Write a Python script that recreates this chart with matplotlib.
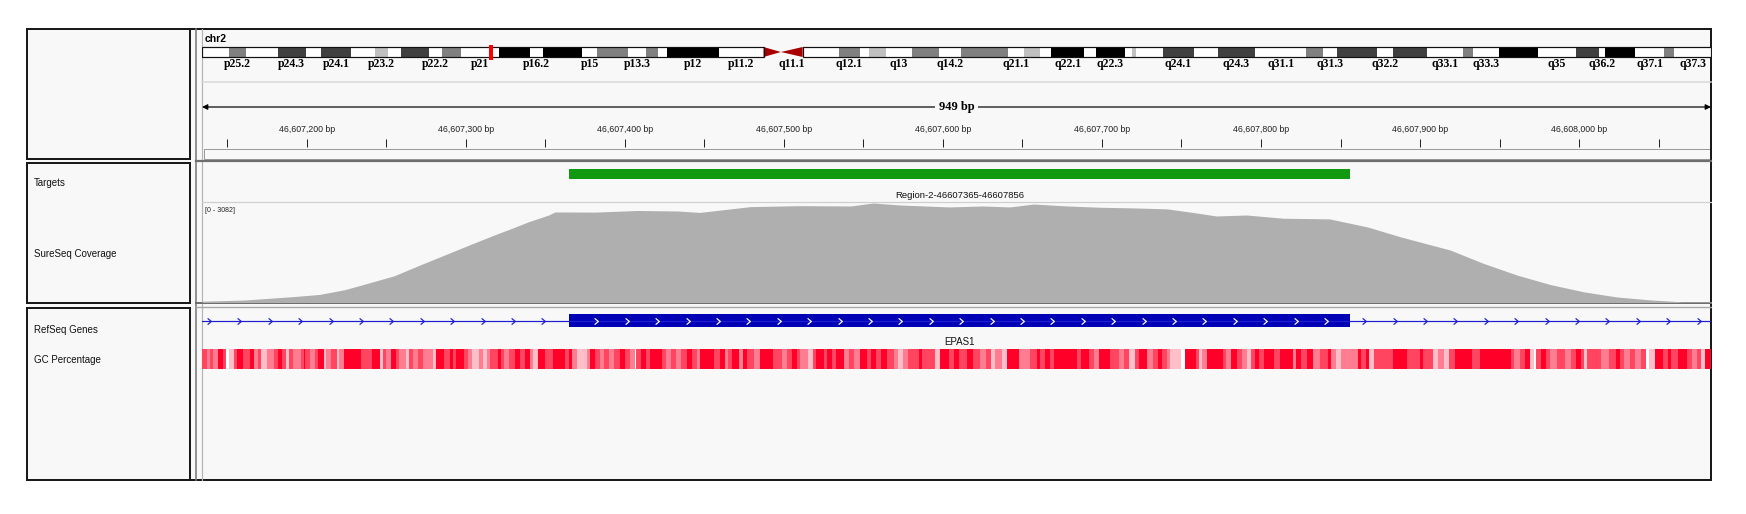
import numpy as np
import matplotlib.pyplot as plt
from matplotlib.patches import Rectangle, Polygon
from matplotlib.path import Path

W, H = 1746, 514

# view
chrom = 'chr2'
view_start = 46607134
view_end = 46608083
chrom_len = 243.199373  # Mb

# chr2 cytobands (Mb)
band_names = ['p25.3', 'p25.2', 'p25.1', 'p24.3', 'p24.2', 'p24.1', 'p23.3', 'p23.2', 'p23.1', 'p22.3',
              'p22.2', 'p22.1', 'p21', 'p16.3', 'p16.2', 'p16.1', 'p15', 'p14', 'p13.3', 'p13.2',
              'p13.1', 'p12', 'p11.2', 'p11.1', 'q11.1', 'q11.2', 'q12.1', 'q12.2', 'q12.3', 'q13',
              'q14.1', 'q14.2', 'q14.3', 'q21.1', 'q21.2', 'q21.3', 'q22.1', 'q22.2', 'q22.3', 'q23.1',
              'q23.2', 'q23.3', 'q24.1', 'q24.2', 'q24.3', 'q31.1', 'q31.2', 'q31.3', 'q32.1', 'q32.2',
              'q32.3', 'q33.1', 'q33.2', 'q33.3', 'q34', 'q35', 'q36.1', 'q36.2', 'q36.3', 'q37.1',
              'q37.2', 'q37.3']
band_starts = [0, 4.4, 7.1, 12.2, 16.7, 19.2, 24.0, 27.9, 30.0, 32.1,
               36.6, 38.6, 41.8, 47.8, 52.9, 55.0, 61.3, 63.6, 68.7, 71.5,
               73.5, 75.0, 83.3, 90.5, 93.3, 96.8, 102.7, 106.0, 107.5, 110.2,
               114.4, 118.8, 122.4, 129.9, 132.5, 135.1, 136.8, 142.2, 144.1, 148.7,
               149.9, 150.5, 154.9, 159.8, 163.7, 169.7, 178.0, 180.6, 183.0, 189.4,
               191.9, 197.4, 203.3, 204.9, 209.0, 215.3, 221.5, 225.2, 226.1, 231.0,
               235.6, 237.3]
band_stains = ['gneg', 'gpos50', 'gneg', 'gpos75', 'gneg', 'gpos75', 'gneg', 'gpos25', 'gneg', 'gpos75',
               'gneg', 'gpos50', 'gneg', 'gpos100', 'gneg', 'gpos100', 'gneg', 'gpos50', 'gneg', 'gpos50',
               'gneg', 'gpos100', 'gneg', 'acen', 'acen', 'gneg', 'gpos50', 'gneg', 'gpos25', 'gneg',
               'gpos50', 'gneg', 'gpos50', 'gneg', 'gpos25', 'gneg', 'gpos100', 'gneg', 'gpos100', 'gneg',
               'gpos25', 'gneg', 'gpos75', 'gneg', 'gpos75', 'gneg', 'gpos50', 'gneg', 'gpos75', 'gneg',
               'gpos75', 'gneg', 'gpos50', 'gneg', 'gpos100', 'gneg', 'gpos75', 'gneg', 'gpos100', 'gneg',
               'gpos50', 'gneg']
labelled_bands = ['p25.2', 'p24.3', 'p24.1', 'p23.2', 'p22.2', 'p21', 'p16.2', 'p15', 'p13.3', 'p12',
                  'p11.2', 'q11.1', 'q12.1', 'q13', 'q14.2', 'q21.1', 'q22.1', 'q22.3', 'q24.1', 'q24.3',
                  'q31.1', 'q31.3', 'q32.2', 'q33.1', 'q33.3', 'q35', 'q36.2', 'q37.1', 'q37.3']

# target + gene
target_name = 'Region-2-46607365-46607856'
target_start, target_end = 46607365, 46607856
gene_name = 'EPAS1'
gene_start, gene_end = 46524541, 46613842
exon_start, exon_end = 46607365, 46607856

# coverage (bp offset from view_start, depth)
cov_max = 3082
cov_offsets = [0, 27, 58, 74, 90, 106, 121, 137, 153, 169, 184, 195, 205, 218, 222, 247, 274, 299, 313,
               345, 376, 408, 422, 439, 470, 491, 508, 523, 544, 565, 586, 607, 623, 638, 657, 680,
               709, 733, 754, 785, 806, 827, 848, 869, 890, 911, 931, 949]
cov_depth = [40, 77, 185, 250, 400, 620, 830, 1160, 1480, 1800, 2095, 2300, 2495, 2710, 2805, 2800,
             2850, 2835, 2790, 2970, 3000, 2990, 3082, 3020, 2960, 2990, 2960, 3050, 2990, 2950, 2930,
             2900, 2790, 2680, 2710, 2610, 2590, 2340, 2030, 1625, 1210, 850, 555, 330, 170, 80, 20, 20]

# GC percentage: segment start (bp offset) and intensity class 0 (low) .. 4 (high)
gc_offsets = [0, 3, 5, 7, 10, 13, 15, 17, 20, 22, 26, 30, 33, 35, 37, 41, 45, 48, 50, 53,
              55, 57, 62, 64, 65, 68, 71, 73, 77, 78, 81, 85, 86, 89, 100, 107, 112, 114, 116, 119,
              122, 124, 128, 130, 133, 136, 139, 145, 147, 152, 156, 158, 160, 165, 167, 170, 174, 177, 179, 181,
              186, 188, 190, 193, 197, 200, 203, 206, 208, 211, 216, 221, 228, 231, 233, 236, 242, 244, 247, 250,
              253, 256, 259, 263, 266, 269, 272, 273, 276, 279, 282, 289, 292, 295, 298, 301, 305, 308, 311, 313,
              322, 326, 329, 331, 333, 338, 340, 343, 347, 351, 359, 365, 368, 371, 374, 376, 381, 384, 386, 391,
              393, 396, 399, 404, 407, 410, 414, 418, 421, 424, 427, 431, 435, 438, 441, 444, 451, 453, 461, 464,
              470, 473, 476, 481, 485, 489, 493, 496, 499, 503, 506, 514, 521, 525, 527, 530, 533, 536, 550, 553,
              558, 561, 564, 571, 577, 580, 583, 587, 589, 594, 598, 601, 604, 607, 609, 616, 618, 625, 627, 629,
              632, 642, 644, 647, 651, 654, 657, 660, 662, 665, 668, 674, 678, 686, 688, 691, 695, 699, 703, 708,
              710, 713, 716, 727, 729, 732, 734, 737, 749, 758, 766, 768, 774, 777, 781, 784, 788, 799, 804, 823,
              825, 829, 832, 835, 838, 839, 842, 845, 848, 852, 857, 861, 864, 867, 869, 871, 880, 885, 889, 892,
              894, 898, 901, 905, 908, 910, 914, 919, 922, 924, 928, 934, 937, 940, 943, 945]
gc_class = [3, 2, 3, 2, 4, 3, 0, 1, 3, 4, 3, 4, 2, 3, 1, 2, 3, 4, 3, 1,
            3, 2, 3, 4, 3, 2, 3, 4, 1, 2, 3, 1, 2, 4, 3, 4, 1, 3, 2, 4,
            3, 2, 1, 3, 2, 3, 2, 1, 4, 3, 4, 3, 4, 3, 2, 1, 2, 1, 2, 3,
            4, 3, 2, 3, 4, 3, 4, 2, 1, 4, 3, 4, 3, 4, 2, 1, 2, 4, 3, 2,
            3, 2, 3, 4, 3, 2, 0, 3, 4, 3, 4, 3, 2, 3, 2, 3, 4, 3, 2, 4,
            3, 4, 2, 3, 4, 2, 4, 3, 2, 4, 3, 2, 3, 4, 3, 2, 1, 3, 4, 3,
            4, 3, 4, 2, 3, 2, 4, 3, 4, 3, 4, 3, 2, 1, 2, 3, 4, 3, 1, 4,
            3, 4, 3, 4, 3, 2, 3, 1, 2, 1, 4, 2, 3, 4, 3, 4, 3, 4, 3, 4,
            3, 2, 4, 3, 2, 3, 1, 3, 4, 2, 3, 4, 3, 2, 1, 0, 4, 3, 1, 2,
            4, 3, 2, 4, 3, 2, 1, 3, 4, 3, 4, 3, 4, 2, 4, 3, 4, 2, 3, 4,
            2, 1, 2, 4, 3, 4, 1, 3, 4, 3, 4, 3, 1, 2, 1, 3, 4, 3, 4, 3,
            2, 3, 4, 1, 0, 3, 4, 3, 2, 3, 2, 3, 4, 3, 1, 3, 2, 3, 4, 3,
            2, 3, 2, 3, 0, 1, 4, 3, 4, 3, 4, 3, 2, 3, 1, 4]

stain_colors = {'gneg': '#FFFFFF', 'gpos25': '#C0C0C0', 'gpos50': '#808080',
                'gpos75': '#404040', 'gpos100': '#000000', 'acen': '#A80000'}
gc_colors = ['#FFFFFF', '#FFBEC8', '#FF7D91', '#FF4560', '#FF0028']
panel_bg = '#F8F8F8'
sans = ['Liberation Sans', 'DejaVu Sans']
serif = ['Liberation Serif', 'DejaVu Serif']

fig = plt.figure(figsize=(W / 100, H / 100), dpi=100)
fig.patch.set_facecolor('white')


def px_axes(x0, y0, x1, y1, xlim):
    ax = fig.add_axes([x0 / W, 1 - y1 / H, (x1 - x0) / W, (y1 - y0) / H])
    ax.set_xlim(*xlim)
    ax.set_ylim(y1, y0)
    ax.axis('off')
    return ax


def lw(px):
    return px * 0.72


# frame / panels
bg = px_axes(0, 0, W, H, (0, W))
bg.add_patch(Rectangle((27, 29), 1711 - 27, 480 - 29, fc=panel_bg, ec='none'))
for y0, y1 in [(29, 159), (163, 303), (308, 480)]:
    bg.add_patch(Rectangle((27, y0), 190 - 27, y1 - y0, fill=False, ec='#1a1a1a', lw=lw(2)))
bg.plot([27, 1711], [29, 29], color='#1a1a1a', lw=lw(2))
bg.plot([1711, 1711], [29, 480], color='#1a1a1a', lw=lw(2))
bg.plot([27, 1711], [480, 480], color='#1a1a1a', lw=lw(2))
bg.plot([196, 196], [29, 480], color='#7a7a7a', lw=lw(1.6))
bg.plot([201.5, 201.5], [29, 480], color='#b4b4b4', lw=lw(1.2))
bg.plot([196, 1711], [160.5, 160.5], color='#6e6e6e', lw=lw(2.2))
bg.plot([196, 1711], [303, 303], color='#6e6e6e', lw=lw(2))
bg.plot([196, 1711], [306.5, 306.5], color='#a8a8a8', lw=lw(1.4))
bg.plot([202, 1711], [82, 82], color='#d8d8d8', lw=lw(1.5))
bg.plot([202, 1711], [202, 202], color='#cfcfcf', lw=lw(1.2))
bg.add_patch(Rectangle((204, 148.5), 1711 - 204, 10, fill=False, ec='#9a9a9a', lw=lw(1)))

for y, name in [(183, 'Targets'), (254, 'SureSeq Coverage'), (330, 'RefSeq Genes'), (360, 'GC Percentage')]:
    bg.text(34, y, name, fontsize=7, family=sans, va='center', ha='left', color='#111111')
bg.text(205, 38.5, chrom, fontsize=7.5, family=sans, fontweight='bold', va='center', ha='left')

# ideogram
ideo = px_axes(202, 40, 1711, 72, (0, chrom_len))
band_ends = band_starts[1:] + [chrom_len]
for name, s, e, st in zip(band_names, band_starts, band_ends, band_stains):
    if st == 'acen':
        if name.startswith('p'):
            ideo.add_patch(Polygon([(s, 47), (s, 57), (e, 52)], closed=True, fc=stain_colors[st], ec='none'))
        else:
            ideo.add_patch(Polygon([(e, 47), (e, 57), (s, 52)], closed=True, fc=stain_colors[st], ec='none'))
        continue
    ideo.add_patch(Rectangle((s, 47), e - s, 10, fc=stain_colors[st], ec='none'))
p_end = band_starts[band_names.index('p11.1')]
q_start = band_ends[band_names.index('q11.1')]
ideo.add_patch(Rectangle((0, 47), p_end, 10, fill=False, ec='#111111', lw=lw(1.2)))
ideo.add_patch(Rectangle((q_start, 47), chrom_len - q_start, 10, fill=False, ec='#111111', lw=lw(1.2)))
for name, s, e in zip(band_names, band_starts, band_ends):
    if name in labelled_bands:
        ideo.text((s + e) / 2, 63.5, name, fontsize=8.5, family=serif, fontweight='bold',
                  ha='center', va='center')
view_mid_mb = (view_start + view_end) / 2 / 1e6
mark_w = 4.5 / 1509 * chrom_len
ideo.add_patch(Rectangle((view_mid_mb - mark_w / 2, 44.5), mark_w, 15, fc='#FF0000', ec='none'))

# ruler
ruler = px_axes(202, 95, 1711, 148, (view_start, view_end))
mid = (view_start + view_end) / 2
for xe in (view_start, view_end):
    ruler.annotate('', xy=(xe, 107), xytext=(mid, 107),
                   arrowprops=dict(arrowstyle='-|>', color='black', lw=lw(1.2), mutation_scale=8,
                                   shrinkA=0, shrinkB=0))
ruler.text(mid, 107, f'{view_end - view_start} bp', fontsize=9, family=serif, fontweight='bold',
           ha='center', va='center', bbox=dict(fc=panel_bg, ec='none', pad=3))
ticks = np.arange(46607150, view_end + 50, 50)
ruler.vlines(ticks, 139, 147, color='#222222', lw=lw(1))
for t in ticks:
    if t % 100 == 0:
        ruler.text(t, 130, f'{t:,} bp', fontsize=6.3, family=sans, ha='center', va='center',
                   color='#222222', clip_on=True)

# targets
tgt = px_axes(202, 163, 1711, 202, (view_start, view_end))
tgt.add_patch(Rectangle((target_start, 169), target_end - target_start, 10, fc='#119A11', ec='none'))
tgt.text((target_start + target_end) / 2, 195.5, target_name, fontsize=6.8, family=sans,
         ha='center', va='center', color='#111111')

# coverage
cov = fig.add_axes([202 / W, 1 - 302.5 / H, 1509 / W, 99.5 / H])
cov.axis('off')
cov.set_xlim(view_start, view_end)
cov.set_ylim(0, cov_max)
cov_pos = view_start + np.array(cov_offsets)
cov.fill_between(cov_pos, 0, cov_depth, color='#AFAFAF', lw=0)
bg.text(205, 210, f'[0 - {cov_max}]', fontsize=5, family=sans, va='center', ha='left', color='#222222')

# genes + gc
feat = px_axes(202, 308, 1711, 479, (view_start, view_end))
gene_col = '#1E1ED2'
feat.plot([max(gene_start, view_start), min(gene_end, view_end)], [321, 321], color=gene_col, lw=lw(1.2))
feat.add_patch(Rectangle((exon_start, 314), exon_end - exon_start, 13, fc='#0000B4', ec='none'))
chevron = Path([(-0.6, 1), (0.6, 0), (-0.6, -1)], [Path.MOVETO, Path.LINETO, Path.LINETO])
step = 30.4 / 1509 * (view_end - view_start)
line_arrows = [a for a in np.arange(view_start + 4.4, view_end, step) if not (exon_start - 3 < a < exon_end + 3)]
feat.plot(line_arrows, [321] * len(line_arrows), ls='none', marker=chevron, ms=4.5, mfc='none',
          mec=gene_col, mew=lw(1.2))
exon_arrows = np.arange(exon_start + 17, exon_end - 4, step)
feat.plot(exon_arrows, [321] * len(exon_arrows), ls='none', marker=chevron, ms=4.5, mfc='none',
          mec='white', mew=lw(1.2))
feat.text((exon_start + exon_end) / 2, 342, gene_name, fontsize=7, family=sans, ha='center', va='center',
          color='#111111')

gc_pos = view_start + np.array(gc_offsets)
gc_w = np.diff(np.append(gc_offsets, view_end - view_start))
feat.bar(gc_pos, 20, width=gc_w, bottom=349, align='edge', color=[gc_colors[c] for c in gc_class], lw=0)

fig.savefig('out.png', dpi=100, facecolor='white')
